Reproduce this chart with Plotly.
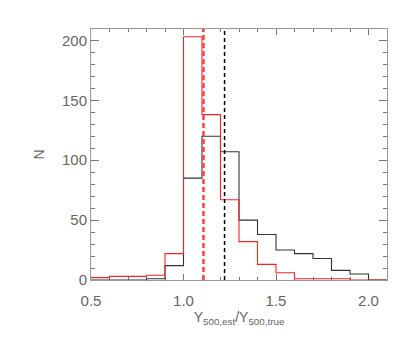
import plotly.graph_objects as go

# bin edges (left edges of 0.1-wide bins) and counts
bin_left = [0.5, 0.6, 0.7, 0.8, 0.9, 1.0, 1.1, 1.2, 1.3, 1.4, 1.5, 1.6, 1.7, 1.8, 1.9, 2.0]
bin_width = 0.1
black_counts = [0, 0, 0, 1, 12, 85, 120, 107, 50, 38, 25, 22, 18, 8, 5, 0]
red_counts = [2, 3, 3, 4, 22, 203, 138, 67, 32, 13, 6, 1, 1, 1, 0, 0]
black_median = 1.222
red_median = 1.108
x_ticks = [0.5, 1.0, 1.5, 2.0]
y_ticks = [0, 50, 100, 150, 200]

def steps(lefts, counts):
    xs = list(lefts) + [lefts[-1] + bin_width]
    ys = list(counts) + [counts[-1]]
    return xs, ys

fig = go.Figure()
bx, by = steps(bin_left, black_counts)
rx, ry = steps(bin_left, red_counts)
fig.add_trace(go.Scatter(x=bx, y=by, mode="lines", cliponaxis=False,
                         line=dict(shape="hv", color="#333333", width=1.1)))
fig.add_trace(go.Scatter(x=rx, y=ry, mode="lines", cliponaxis=False,
                         line=dict(shape="hv", color="#ff2020", width=1.1)))
fig.add_trace(go.Scatter(x=[black_median, black_median], y=[0, 210], mode="lines",
                         line=dict(color="black", width=1.5, dash="4px,3px")))
fig.add_trace(go.Scatter(x=[red_median, red_median], y=[0, 210], mode="lines",
                         line=dict(color="#ff4040", width=2.5, dash="5px,3px")))

axis_common = dict(
    showgrid=False, zeroline=False, showline=True, linecolor="#999999", linewidth=1,
    mirror="ticks", ticks="inside", tickcolor="#777777", tickwidth=1, automargin=False,
    layer="below traces",
    tickfont=dict(family="Liberation Sans", size=15, color="#666666"),
)
fig.update_xaxes(range=[0.5, 2.1], tickvals=x_ticks, ticktext=[f"{v:.1f}" for v in x_ticks],
                 ticklen=6, ticklabelstandoff=7,
                 minor=dict(dtick=0.1, ticklen=3, ticks="inside", tickcolor="#777777"),
                 title=dict(text="Y<sub>500,est</sub>/Y<sub>500,true</sub>",
                            font=dict(family="Liberation Sans", size=14, color="#666666"), standoff=2),
                 **axis_common)
fig.update_yaxes(range=[0, 209.5], tickvals=y_ticks, ticklen=8,
                 minor=dict(dtick=10, ticklen=4, ticks="inside", tickcolor="#777777"),
                 title=dict(text="N", font=dict(family="Liberation Sans", size=14, color="#666666"), standoff=14),
                 **axis_common)
fig.update_layout(width=407, height=330, margin=dict(l=83, r=28, t=21, b=58),
                  plot_bgcolor="white", paper_bgcolor="white", showlegend=False)
fig.write_html("out.html")
